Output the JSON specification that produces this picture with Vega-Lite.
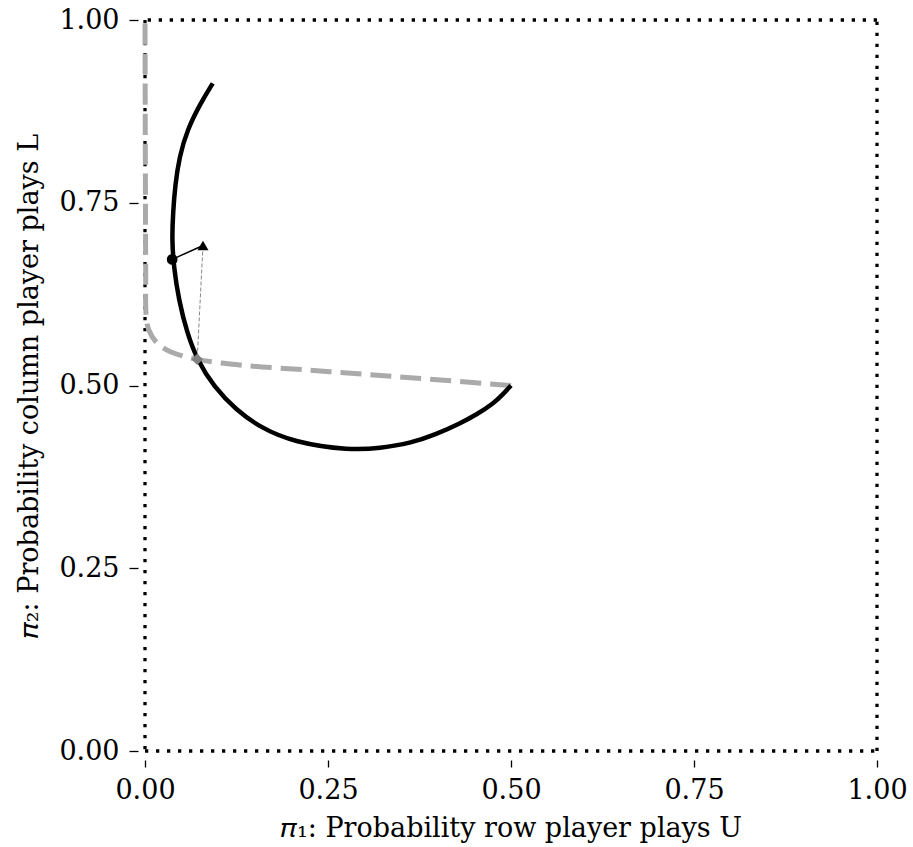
{
  "$schema": "https://vega.github.io/schema/vega-lite/v6.json",
  "width": 732,
  "height": 731,
  "autosize": {"type": "none"},
  "padding": {"left": 145, "top": 20, "right": 36, "bottom": 96},
  "background": "white",
  "config": {
    "view": {"stroke": null},
    "font": "DejaVu Serif",
    "axis": {
      "grid": false,
      "domain": false,
      "labelFlush": false,
      "tickColor": "black",
      "tickSize": 8,
      "tickWidth": 1.3,
      "labelFont": "DejaVu Serif",
      "labelFontSize": 27,
      "labelColor": "black",
      "titleFont": "DejaVu Serif",
      "titleFontSize": 27,
      "titleFontWeight": "normal",
      "titleColor": "black"
    }
  },
  "datasets": {
    "frame": [
      {"x": 0, "y": 0, "x2": 1, "y2": 0},
      {"x": 1, "y": 0, "x2": 1, "y2": 1},
      {"x": 1, "y": 1, "x2": 0, "y2": 1},
      {"x": 0, "y": 1, "x2": 0, "y2": 0}
    ],
    "traj": [
      {"i": 1, "x": 0.5, "y": 0.5},
      {"i": 2, "x": 0.4885, "y": 0.4874},
      {"i": 3, "x": 0.4762, "y": 0.4757},
      {"i": 4, "x": 0.4535, "y": 0.4605},
      {"i": 5, "x": 0.4307, "y": 0.4483},
      {"i": 6, "x": 0.397, "y": 0.4328},
      {"i": 7, "x": 0.3625, "y": 0.4209},
      {"i": 8, "x": 0.321, "y": 0.4142},
      {"i": 9, "x": 0.2805, "y": 0.4112},
      {"i": 10, "x": 0.2031, "y": 0.4222},
      {"i": 11, "x": 0.1577, "y": 0.4425},
      {"i": 12, "x": 0.125, "y": 0.466},
      {"i": 13, "x": 0.0939, "y": 0.4984},
      {"i": 14, "x": 0.0713, "y": 0.5349},
      {"i": 15, "x": 0.0576, "y": 0.5714},
      {"i": 16, "x": 0.0461, "y": 0.617},
      {"i": 17, "x": 0.0393, "y": 0.6625},
      {"i": 18, "x": 0.0368, "y": 0.7},
      {"i": 19, "x": 0.0383, "y": 0.7364},
      {"i": 20, "x": 0.0413, "y": 0.775},
      {"i": 21, "x": 0.047, "y": 0.813},
      {"i": 22, "x": 0.0576, "y": 0.8495},
      {"i": 23, "x": 0.0758, "y": 0.886},
      {"i": 24, "x": 0.0926, "y": 0.9134}
    ],
    "gray": [
      {"i": 1, "x": 0.5, "y": 0.5},
      {"i": 2, "x": 0.4034, "y": 0.5075},
      {"i": 3, "x": 0.3124, "y": 0.5144},
      {"i": 4, "x": 0.2214, "y": 0.5212},
      {"i": 5, "x": 0.1304, "y": 0.528},
      {"i": 6, "x": 0.0713, "y": 0.5358},
      {"i": 7, "x": 0.0348, "y": 0.5462},
      {"i": 8, "x": 0.0167, "y": 0.5577},
      {"i": 9, "x": 0.0052, "y": 0.5759},
      {"i": 10, "x": 0.0015, "y": 0.597},
      {"i": 11, "x": 0.001, "y": 0.65},
      {"i": 12, "x": 0.0005, "y": 0.8},
      {"i": 13, "x": 0.0, "y": 1.0}
    ],
    "solidSeg": [
      {"i": 1, "x": 0.0371, "y": 0.6725},
      {"i": 2, "x": 0.0792, "y": 0.6915}
    ],
    "dashSeg": [
      {"i": 1, "x": 0.0792, "y": 0.6915},
      {"i": 2, "x": 0.0713, "y": 0.5358}
    ],
    "pts": [
      {"kind": "circle", "x": 0.0371, "y": 0.6725},
      {"kind": "triangle", "x": 0.0792, "y": 0.6915},
      {"kind": "diamond", "x": 0.0713, "y": 0.5358}
    ]
  },
  "layer": [
    {
      "data": {"name": "frame"},
      "mark": {"type": "rule", "color": "black", "strokeWidth": 3.3, "strokeDash": [3.3, 7.7], "strokeCap": "butt"},
      "encoding": {
        "x": {
          "field": "x", "type": "quantitative",
          "scale": {"domain": [0, 1], "nice": false},
          "axis": {"values": [0, 0.25, 0.5, 0.75, 1], "format": ".2f", "offset": 9, "tickSize": 7, "labelPadding": 10, "titlePadding": 12, "title": "𝜋₁: Probability row player plays U"}
        },
        "x2": {"field": "x2"},
        "y": {
          "field": "y", "type": "quantitative",
          "scale": {"domain": [0, 1], "nice": false},
          "axis": {"values": [0, 0.25, 0.5, 0.75, 1], "format": ".2f", "offset": 7, "tickSize": 9, "labelPadding": 10, "titlePadding": 15, "title": "𝜋₂: Probability column player plays L"}
        },
        "y2": {"field": "y2"}
      }
    },
    {
      "data": {"name": "gray"},
      "mark": {"type": "line", "color": "#aaaaaa", "strokeWidth": 5, "strokeDash": [21, 9], "strokeCap": "butt", "interpolate": "catmull-rom"},
      "encoding": {
        "x": {"field": "x", "type": "quantitative"},
        "y": {"field": "y", "type": "quantitative"},
        "order": {"field": "i"}
      }
    },
    {
      "data": {"name": "traj"},
      "mark": {"type": "line", "color": "black", "strokeWidth": 4.5, "interpolate": "basis"},
      "encoding": {
        "x": {"field": "x", "type": "quantitative"},
        "y": {"field": "y", "type": "quantitative"},
        "order": {"field": "i"}
      }
    },
    {
      "data": {"name": "solidSeg"},
      "mark": {"type": "line", "color": "black", "strokeWidth": 1.5},
      "encoding": {
        "x": {"field": "x", "type": "quantitative"},
        "y": {"field": "y", "type": "quantitative"},
        "order": {"field": "i"}
      }
    },
    {
      "data": {"name": "dashSeg"},
      "mark": {"type": "line", "color": "#888888", "strokeWidth": 1, "strokeDash": [4, 2]},
      "encoding": {
        "x": {"field": "x", "type": "quantitative"},
        "y": {"field": "y", "type": "quantitative"},
        "order": {"field": "i"}
      }
    },
    {
      "data": {"name": "pts"},
      "mark": {"type": "point", "filled": true, "opacity": 1},
      "encoding": {
        "x": {"field": "x", "type": "quantitative"},
        "y": {"field": "y", "type": "quantitative"},
        "shape": {"field": "kind", "type": "nominal", "scale": {"domain": ["circle", "triangle", "diamond"], "range": ["circle", "triangle-up", "diamond"]}, "legend": null},
        "color": {"field": "kind", "type": "nominal", "scale": {"domain": ["circle", "triangle", "diamond"], "range": ["black", "black", "#808080"]}, "legend": null},
        "size": {"field": "kind", "type": "nominal", "scale": {"domain": ["circle", "triangle", "diamond"], "range": [115, 130, 200]}, "legend": null}
      }
    }
  ]
}
